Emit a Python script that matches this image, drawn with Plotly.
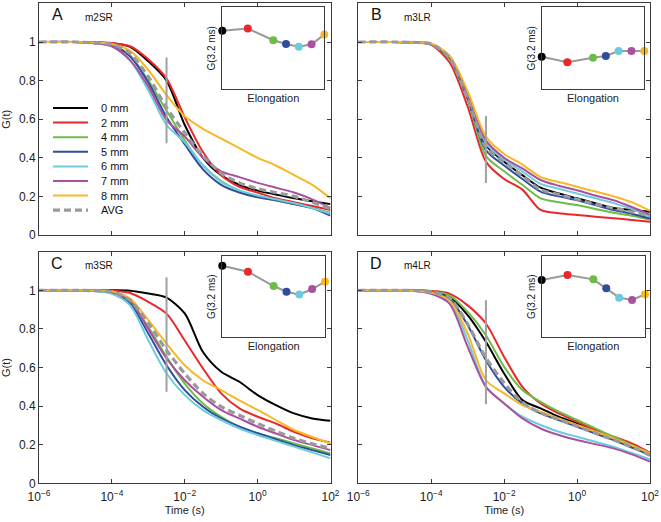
import plotly.graph_objects as go

# log10 of lag time (s) at which the curves were read
log_t = [-6, -5, -4.5, -4, -3.5, -3, -2.5, -2, -1.5, -1, -0.5, 0, 0.5, 1, 1.5, 2]
time_s = [10 ** v for v in log_t]

labels = ["0 mm", "2 mm", "4 mm", "5 mm", "6 mm", "7 mm", "8 mm"]
elongation = [0, 2, 4, 5, 6, 7, 8]
colors = ["#000000", "#e8282b", "#6cbd45", "#2f4d9c", "#6dcbe0", "#a9519f", "#f8b826"]
avg_color = "#9a9a9a"

panel_letters = ["A", "B", "C", "D"]
panel_names = ["m2SR", "m3LR", "m3SR", "m4LR"]

# G(t) per elongation (0,2,4,5,6,7,8 mm)
m2SR = [
    [1, 1, 0.998, 0.993, 0.975, 0.90, 0.80, 0.57, 0.40, 0.31, 0.26, 0.23, 0.21, 0.19, 0.175, 0.16],
    [1, 1, 0.999, 0.995, 0.978, 0.91, 0.81, 0.61, 0.43, 0.31, 0.25, 0.22, 0.19, 0.17, 0.15, 0.13],
    [1, 1, 0.995, 0.985, 0.93, 0.80, 0.645, 0.49, 0.36, 0.28, 0.23, 0.20, 0.18, 0.16, 0.14, 0.115],
    [1, 1, 0.995, 0.983, 0.925, 0.79, 0.61, 0.47, 0.34, 0.26, 0.22, 0.195, 0.18, 0.16, 0.14, 0.10],
    [1, 1, 0.994, 0.978, 0.905, 0.75, 0.57, 0.48, 0.36, 0.275, 0.23, 0.205, 0.185, 0.165, 0.14, 0.11],
    [1, 1, 0.994, 0.978, 0.905, 0.77, 0.595, 0.51, 0.40, 0.33, 0.30, 0.27, 0.245, 0.22, 0.185, 0.14],
    [1, 1, 0.997, 0.99, 0.955, 0.855, 0.725, 0.615, 0.55, 0.50, 0.45, 0.40, 0.36, 0.31, 0.26, 0.19],
]
m3LR = [
    [1, 1, 0.998, 0.99, 0.92, 0.71, 0.465, 0.38, 0.31, 0.245, 0.215, 0.19, 0.165, 0.14, 0.13, 0.12],
    [1, 1, 0.997, 0.985, 0.895, 0.665, 0.38, 0.29, 0.235, 0.13, 0.113, 0.104, 0.095, 0.087, 0.078, 0.068],
    [1, 1, 0.998, 0.99, 0.915, 0.70, 0.41, 0.33, 0.26, 0.19, 0.17, 0.155, 0.135, 0.115, 0.10, 0.08],
    [1, 1, 0.998, 0.99, 0.92, 0.705, 0.44, 0.36, 0.29, 0.225, 0.20, 0.18, 0.155, 0.13, 0.11, 0.085],
    [1, 1, 0.998, 0.99, 0.925, 0.72, 0.475, 0.39, 0.33, 0.265, 0.24, 0.215, 0.19, 0.165, 0.135, 0.095],
    [1, 1, 0.998, 0.99, 0.925, 0.725, 0.49, 0.40, 0.345, 0.285, 0.255, 0.232, 0.205, 0.18, 0.145, 0.105],
    [1, 1, 0.998, 0.992, 0.93, 0.745, 0.51, 0.42, 0.365, 0.30, 0.275, 0.25, 0.225, 0.20, 0.17, 0.125],
]
m3SR = [
    [1, 1, 1, 1, 0.998, 0.983, 0.962, 0.88, 0.68, 0.578, 0.526, 0.457, 0.405, 0.362, 0.336, 0.324],
    [1, 1, 1, 0.998, 0.986, 0.94, 0.879, 0.74, 0.595, 0.466, 0.388, 0.345, 0.31, 0.267, 0.233, 0.21],
    [1, 1, 0.998, 0.99, 0.94, 0.81, 0.655, 0.517, 0.414, 0.345, 0.293, 0.259, 0.233, 0.207, 0.18, 0.155],
    [1, 1, 0.997, 0.985, 0.931, 0.776, 0.612, 0.483, 0.397, 0.336, 0.293, 0.259, 0.228, 0.198, 0.172, 0.147],
    [1, 1, 0.996, 0.982, 0.922, 0.741, 0.569, 0.457, 0.379, 0.328, 0.284, 0.25, 0.22, 0.19, 0.16, 0.129],
    [1, 1, 0.998, 0.99, 0.948, 0.80, 0.647, 0.534, 0.448, 0.379, 0.336, 0.293, 0.258, 0.224, 0.198, 0.172],
    [1, 1, 0.999, 0.995, 0.957, 0.845, 0.724, 0.612, 0.534, 0.483, 0.43, 0.38, 0.328, 0.276, 0.24, 0.207],
]
m4LR = [
    [1, 1, 0.999, 0.993, 0.969, 0.871, 0.733, 0.569, 0.431, 0.388, 0.345, 0.31, 0.27, 0.233, 0.19, 0.147],
    [1, 1, 1, 0.997, 0.983, 0.922, 0.828, 0.655, 0.50, 0.414, 0.362, 0.319, 0.276, 0.241, 0.207, 0.159],
    [1, 1, 0.999, 0.995, 0.974, 0.888, 0.767, 0.603, 0.483, 0.422, 0.371, 0.328, 0.285, 0.241, 0.198, 0.155],
    [1, 1, 0.999, 0.99, 0.957, 0.819, 0.638, 0.50, 0.414, 0.362, 0.328, 0.293, 0.258, 0.224, 0.185, 0.147],
    [1, 1, 0.998, 0.985, 0.945, 0.741, 0.50, 0.414, 0.345, 0.302, 0.267, 0.241, 0.215, 0.19, 0.157, 0.124],
    [1, 1, 0.998, 0.982, 0.931, 0.707, 0.50, 0.414, 0.336, 0.284, 0.25, 0.224, 0.203, 0.181, 0.15, 0.112],
    [1, 1, 0.998, 0.988, 0.948, 0.776, 0.534, 0.466, 0.405, 0.371, 0.336, 0.302, 0.268, 0.233, 0.195, 0.155],
]
avg_m2SR = [1, 1, 0.996, 0.988, 0.94, 0.82, 0.66, 0.53, 0.41, 0.32, 0.27, 0.24, 0.22, 0.20, 0.17, 0.135]
avg_m3LR = [1, 1, 0.998, 0.99, 0.918, 0.71, 0.455, 0.375, 0.305, 0.235, 0.21, 0.185, 0.16, 0.14, 0.12, 0.10]
avg_m3SR = [1, 1, 0.998, 0.992, 0.948, 0.83, 0.69, 0.569, 0.466, 0.397, 0.353, 0.31, 0.27, 0.233, 0.205, 0.181]
avg_m4LR = [1, 1, 0.999, 0.99, 0.96, 0.825, 0.65, 0.52, 0.42, 0.365, 0.33, 0.295, 0.26, 0.225, 0.188, 0.145]

# G at 3.2 ms (inset, relative units)
inset_m2SR = [0.715, 0.74, 0.598, 0.553, 0.52, 0.549, 0.667]
inset_m3LR = [0.398, 0.329, 0.386, 0.407, 0.467, 0.467, 0.467]
inset_m3SR = [0.881, 0.807, 0.631, 0.561, 0.525, 0.594, 0.684]
inset_m4LR = [0.705, 0.766, 0.713, 0.602, 0.488, 0.459, 0.529]

cut_time = 10 ** -2.5
cut_lo = [0.475, 0.27, 0.474, 0.41]
cut_hi = [0.92, 0.617, 1.067, 0.948]

curves = [m2SR, m3LR, m3SR, m4LR]
avgs = [avg_m2SR, avg_m3LR, avg_m3SR, avg_m4LR]
insets = [inset_m2SR, inset_m3LR, inset_m3SR, inset_m4LR]

W, H = 661, 522
FONT = "Liberation Sans"
AXC = "#3a3a3a"

# panel boxes in pixels: left, right, top, bottom
boxes = [(39, 330.5, 3.4, 235), (358.3, 650, 3.4, 235),
         (39, 330.5, 251.7, 483.3), (358.3, 650, 251.7, 483.3)]
inset_boxes = [(222.3, 324.3, 7.3, 89.3), (541.7, 644.3, 7.3, 89.3),
               (222.3, 325, 256, 337.3), (541.7, 645, 256, 337.3)]


def dom(b):
    l, r, t, bt = b
    return [l / W, r / W], [(H - bt) / H, (H - t) / H]


fig = go.Figure()
layout = {}
for p in range(4):
    n = p + 1
    xa = "x" if n == 1 else "x%d" % n
    ya = "y" if n == 1 else "y%d" % n
    for k in range(7):
        fig.add_trace(go.Scatter(x=time_s, y=curves[p][k], mode="lines",
                                 line=dict(color=colors[k], width=2, shape="spline", smoothing=0.8),
                                 xaxis=xa, yaxis=ya, showlegend=False))
    fig.add_trace(go.Scatter(x=time_s, y=avgs[p], mode="lines",
                             line=dict(color=avg_color, width=3.2, dash="7px,4px", shape="spline", smoothing=0.8),
                             xaxis=xa, yaxis=ya, showlegend=False))
    fig.add_trace(go.Scatter(x=[cut_time, cut_time], y=[cut_lo[p], cut_hi[p]], mode="lines",
                             line=dict(color="#a0a0a0", width=2),
                             xaxis=xa, yaxis=ya, showlegend=False))
    xd, yd = dom(boxes[p])
    bottom = p >= 2
    left = p % 2 == 0
    layout["xaxis" if n == 1 else "xaxis%d" % n] = dict(
        domain=xd, anchor=ya, type="log", range=[-6, 2], automargin=False,
        tickvals=[1e-6, 1e-4, 1e-2, 1, 100],
        ticktext=["10<sup>−6</sup>", "10<sup>−4</sup>", "10<sup>−2</sup>", "10<sup>0</sup>", "10<sup>2</sup>"],
        showticklabels=bottom, ticks="inside", ticklen=4, tickcolor=AXC, ticklabelstandoff=2,
        showline=True, linecolor=AXC, linewidth=1, mirror="ticks", showgrid=False, zeroline=False,
        tickfont=dict(size=12, color="#222"),
        title=dict(text="Time (s)" if bottom else "", font=dict(size=11, color="#222"), standoff=2),
    )
    layout["yaxis" if n == 1 else "yaxis%d" % n] = dict(
        domain=yd, anchor=xa, range=[0, 1.2], automargin=False,
        tickvals=[0, 0.2, 0.4, 0.6, 0.8, 1], ticktext=["0", "0.2", "0.4", "0.6", "0.8", "1"],
        showticklabels=left, ticks="inside", ticklen=4, tickcolor=AXC,
        showline=True, linecolor=AXC, linewidth=1, mirror="ticks", showgrid=False, zeroline=False,
        tickfont=dict(size=12, color="#222"),
        title=dict(text="G(t)" if left else "", font=dict(size=11, color="#222"), standoff=6),
    )

    # inset
    m = n + 4
    fig.add_trace(go.Scatter(x=elongation, y=insets[p], mode="lines",
                             line=dict(color="#999999", width=2),
                             xaxis="x%d" % m, yaxis="y%d" % m, showlegend=False))
    fig.add_trace(go.Scatter(x=elongation, y=insets[p], mode="markers",
                             marker=dict(color=colors, size=8), cliponaxis=False,
                             xaxis="x%d" % m, yaxis="y%d" % m, showlegend=False))
    ixd, iyd = dom(inset_boxes[p])
    layout["xaxis%d" % m] = dict(domain=ixd, anchor="y%d" % m, range=[0, 8], automargin=False,
                                 showticklabels=False, ticks="", showgrid=False, zeroline=False,
                                 showline=True, linecolor=AXC, linewidth=1, mirror=True,
                                 title=dict(text="Elongation", font=dict(size=11, color="#222"), standoff=4))
    layout["yaxis%d" % m] = dict(domain=iyd, anchor="x%d" % m, range=[0, 1], automargin=False,
                                 showticklabels=False, ticks="", showgrid=False, zeroline=False,
                                 showline=True, linecolor=AXC, linewidth=1, mirror=True,
                                 title=dict(text="G(3.2 ms)", font=dict(size=10, color="#222"), standoff=3))

annotations = []
for p in range(4):
    n = p + 1
    xa = "x" if n == 1 else "x%d" % n
    ya = "y" if n == 1 else "y%d" % n
    annotations.append(dict(text=panel_letters[p], xref=xa + " domain", yref=ya + " domain",
                            x=0.062, y=0.95, showarrow=False, xanchor="center", yanchor="middle",
                            font=dict(size=16, color="#111")))
    annotations.append(dict(text=panel_names[p], xref=xa + " domain", yref=ya + " domain",
                            x=0.151, y=0.94, showarrow=False, xanchor="left", yanchor="middle",
                            font=dict(size=10, color="#111")))

# legend drawn in panel A
shapes = []
leg_names = labels + ["AVG"]
leg_colors = colors + [avg_color]
for i in range(8):
    yy = 1 - (108 + 14.6 * i) / H
    shapes.append(dict(type="line", xref="paper", yref="paper", x0=53 / W, x1=88 / W, y0=yy, y1=yy,
                       line=dict(color=leg_colors[i], width=3.2 if i == 7 else 2,
                                 dash="7px,4px" if i == 7 else "solid")))
    annotations.append(dict(text=leg_names[i], xref="paper", yref="paper", x=99 / W, y=yy,
                            xanchor="left", yanchor="middle", showarrow=False,
                            font=dict(size=11, color="#111")))

fig.update_layout(
    width=W, height=H, margin=dict(l=0, r=0, t=0, b=0),
    paper_bgcolor="white", plot_bgcolor="white",
    font=dict(family=FONT, color="#222"),
    annotations=annotations, shapes=shapes, showlegend=False,
    **layout,
)

# page body has a default 8px margin; drop it so the figure fills the window
fig.write_html("out.html", config={"displayModeBar": False},
               post_script="document.body.style.margin='0';")
